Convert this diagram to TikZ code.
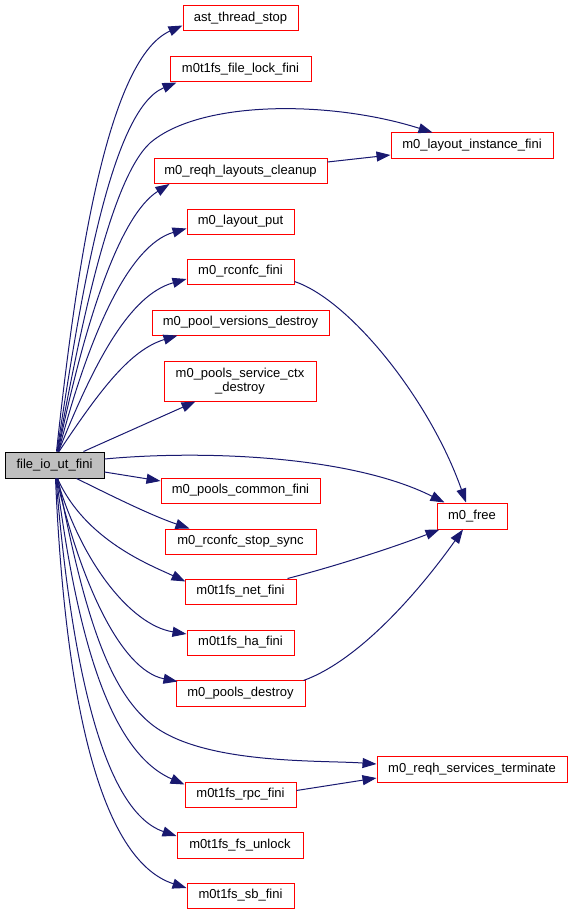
\documentclass[tikz,border=0pt]{standalone}
\usepackage{fontspec}
\setmainfont{Liberation Sans}
\usetikzlibrary{arrows.meta,calc}
\definecolor{edgeblue}{HTML}{191970}
\definecolor{rootgray}{HTML}{BFBFBF}
\begin{document}
\begin{tikzpicture}[x=1pt,y=-1pt,
  fn/.style={draw=red, line width=1pt, fill=white, inner sep=0pt, minimum height=25pt, font=\fontsize{13}{14}\selectfont, align=center},
  root/.style={fn, draw=black, fill=rootgray},
  edge/.style={draw=edgeblue, line width=1pt, -{Triangle[length=14pt,width=10pt]}}]
\useasboundingbox (0,0) rectangle (572,915);

\node[root, minimum width=99pt, minimum height=26pt] (file) at (54.5,465) {file\_io\_ut\_fini};
\node[fn, minimum width=115pt] (ast) at (240.5,18.5) {ast\_thread\_stop};
\node[fn, minimum width=141pt] (lockfini) at (240.5,69.5) {m0t1fs\_file\_lock\_fini};
\node[fn, minimum width=162pt] (lif) at (472,145.5) {m0\_layout\_instance\_fini};
\node[fn, minimum width=173pt] (rlc) at (240.5,171) {m0\_reqh\_layouts\_cleanup};
\node[fn, minimum width=107pt] (lput) at (240.5,221.5) {m0\_layout\_put};
\node[fn, minimum width=107pt] (rcf) at (240.5,271.5) {m0\_rconfc\_fini};
\node[fn, minimum width=177pt] (pvd) at (240.5,322.5) {m0\_pool\_versions\_destroy};
\node[fn, minimum width=152pt, minimum height=40pt] (psc) at (240,381) {m0\_pools\_service\_ctx\\\_destroy};
\node[fn, minimum width=159pt] (pcf) at (240.5,490.5) {m0\_pools\_common\_fini};
\node[fn, minimum width=70pt, minimum height=26pt] (free) at (472,516) {m0\_free};
\node[fn, minimum width=151pt] (rss) at (240.5,541.5) {m0\_rconfc\_stop\_sync};
\node[fn, minimum width=111pt] (net) at (240.5,591.5) {m0t1fs\_net\_fini};
\node[fn, minimum width=107pt] (ha) at (240.5,642.5) {m0t1fs\_ha\_fini};
\node[fn, minimum width=129pt, minimum height=26pt] (pd) at (240.5,693) {m0\_pools\_destroy};
\node[fn, minimum width=190pt, minimum height=26pt] (rst) at (472,769) {m0\_reqh\_services\_terminate};
\node[fn, minimum width=111pt] (rpc) at (240.5,794.5) {m0t1fs\_rpc\_fini};
\node[fn, minimum width=126pt, minimum height=26pt] (unl) at (240,845) {m0t1fs\_fs\_unlock};
\node[fn, minimum width=107pt] (sb) at (240.5,895.5) {m0t1fs\_sb\_fini};

% upward edges
\draw[edge] ($(file.north)+(2,0)$) .. controls (75,280) and (105,60) .. ($(ast.west)+(0,7)$);
\draw[edge] ($(file.north)+(2.5,0)$) .. controls (80,300) and (110,110) .. ($(lockfini.south west)+(7,0)$);
\draw[edge] ($(file.north)+(3,0)$) .. controls (80,330) and (110,180) .. (150,143) .. controls (200,100) and (330,100) .. ($(lif.north west)+(42,0)$);
\draw[edge] ($(file.north)+(3.5,0)$) .. controls (85,320) and (120,215) .. ($(rlc.south west)+(16,0)$);
\draw[edge] ($(file.north)+(4,0)$) .. controls (90,330) and (130,245) .. ($(lput.west)+(0,7)$);
\draw[edge] ($(file.north)+(4,0)$) .. controls (95,360) and (130,295) .. ($(rcf.west)+(0,7.5)$);
\draw[edge] ($(file.north)+(4.5,0)$) .. controls (100,390) and (130,350) .. ($(pvd.south west)+(26,0)$);
\draw[edge] ($(file.north)+(29,0)$) -- ($(psc.south west)+(32,0)$);

% right edges
\draw[edge] ($(file.east)+(0,-6)$) .. controls (200,450) and (350,455) .. ($(free.north west)+(8,0)$);
\draw[edge] ($(file.east)+(0,7)$) -- ($(pcf.west)+(0,-9.5)$);

% downward edges
\draw[edge] ($(file.south)+(22,0)$) .. controls (110,495) and (150,515) .. ($(rss.north west)+(25,0)$);
\draw[edge] ($(file.south)+(3,0)$) .. controls (85,540) and (150,565) .. ($(net.north west)+(1,3)$);
\draw[edge] ($(file.south)+(2.5,0)$) .. controls (80,560) and (130,625) .. ($(ha.west)+(0,-8.5)$);
\draw[edge] ($(file.south)+(2,0)$) .. controls (80,580) and (120,670) .. ($(pd.north west)+(2,2)$);
\draw[edge] ($(file.south)+(3.5,0)$) .. controls (85,620) and (110,690) .. (150,723) .. controls (200,765) and (320,760) .. ($(rst.west)+(0,-5)$);
\draw[edge] ($(file.south)+(2,0)$) .. controls (75,620) and (105,750) .. ($(rpc.west)+(0,-10)$);
\draw[edge] ($(file.south)+(1.5,0)$) .. controls (70,650) and (100,810) .. ($(unl.west)+(0,-9)$);
\draw[edge] ($(file.south)+(1,0)$) .. controls (65,700) and (100,860) .. ($(sb.west)+(0,-7.5)$);

% secondary edges
\draw[edge] ($(rlc.east)+(0,-9)$) -- ($(lif.west)+(0,9.5)$);
\draw[edge] ($(rcf.east)+(0,10)$) .. controls (350,300) and (430,400) .. ($(free.north)+(-6,0)$);
\draw[edge] ($(net.north east)+(-9,0)$) .. controls (340,565) and (400,545) .. ($(free.south west)+(3,0)$);
\draw[edge] ($(pd.north east)+(-2,1)$) .. controls (360,660) and (420,590) .. ($(free.south)+(-9,0)$);
\draw[edge] ($(rpc.east)+(0,-4)$) -- ($(rst.west)+(0,9)$);
\end{tikzpicture}
\end{document}
